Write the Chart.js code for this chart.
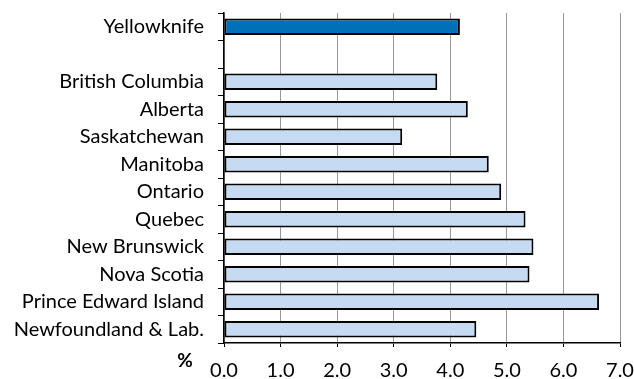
<!DOCTYPE html>
<html>
<head>
<meta charset="utf-8">
<script src="https://cdn.jsdelivr.net/npm/chart.js@4"></script>
<style>
  html, body { margin: 0; padding: 0; background: #fff; }
  #wrap { width: 634px; height: 379px; }
</style>
</head>
<body>
<div id="wrap"><canvas id="chart"></canvas></div>
<script>
// rates by province, Yellowknife on top, blank spacer row after it
const regions = ["Yellowknife", "", "British Columbia", "Alberta", "Saskatchewan", "Manitoba",
  "Ontario", "Quebec", "New Brunswick", "Nova Scotia", "Prince Edward Island", "Newfoundland & Lab."];
const rates = [4.17, null, 3.77, 4.31, 3.15, 4.68, 4.90, 5.33, 5.47, 5.40, 6.63, 4.46];
const xTicks = [0, 1, 2, 3, 4, 5, 6, 7];
const unitLabel = "%";

const FONT = "Lato, 'Open Sans', sans-serif";

// the bold "%" that sits left of the x tick labels
const unitPlugin = {
  id: "unitLabel",
  afterDraw(chart) {
    const { ctx, chartArea } = chart;
    ctx.save();
    ctx.font = "bold 19px " + FONT;
    ctx.fillStyle = "#000";
    ctx.textAlign = "center";
    ctx.textBaseline = "middle";
    ctx.fillText(unitLabel, chartArea.left - 39, chartArea.bottom + 18);
    ctx.restore();
  }
};

new Chart(document.getElementById("chart"), {
  type: "bar",
  data: {
    labels: regions,
    datasets: [{
      data: rates,
      backgroundColor: regions.map((r, i) => i === 0 ? "#0071B9" : "#C6DAF1"),
      borderColor: "#000",
      borderWidth: 2,
      borderSkipped: false,
      barPercentage: 0.6,
      categoryPercentage: 1.0,
    }],
  },
  options: {
    indexAxis: "y",
    responsive: true, maintainAspectRatio: false, animation: false,
    layout: { padding: { top: 13, right: 0, left: 0, bottom: 0 } },
    plugins: { legend: { display: false }, tooltip: { enabled: false } },
    scales: {
      x: {
        min: 0, max: 7,
        afterBuildTicks: s => { s.ticks = xTicks.map(v => ({ value: v })); },
        afterFit: s => { s.height = 36; s.paddingLeft = 0; s.paddingRight = 14; },
        grid: { color: "#999", lineWidth: 1, tickColor: "#000", tickLength: 4 },
        border: { display: true, color: "#000", width: 1.5 },
        ticks: { color: "#000", font: { family: FONT, size: 20 }, padding: 12,
                 maxRotation: 0, callback: v => v.toFixed(1) },
      },
      y: {
        afterFit: s => { s.width = 224; s.paddingTop = 0; s.paddingBottom = 0; },
        grid: { drawOnChartArea: false, color: "#000", tickColor: "#000", tickLength: 6, offset: true },
        border: { display: true, color: "#000", width: 1.5 },
        ticks: { color: "#000", font: { family: FONT, size: 20 }, padding: 14, autoSkip: false },
      },
    },
  },
  plugins: [unitPlugin],
});
</script>
</body>
</html>
